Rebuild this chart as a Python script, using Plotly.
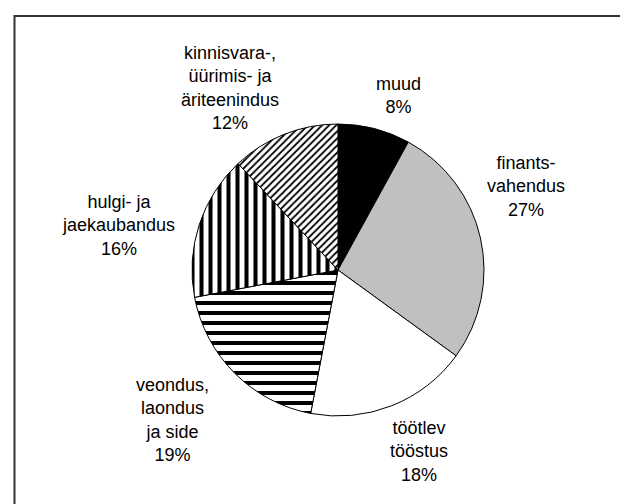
import plotly.graph_objects as go

# ---- data ----
categories = ["muud", "finants-<br>vahendus", "töötlev<br>tööstus", "veondus,<br>laondus<br>ja side",
              "hulgi- ja<br>jaekaubandus", "kinnisvara-,<br>üürimis- ja<br>äriteenindus"]
shares = [8, 27, 18, 19, 16, 12]

# ---- styles ----
fill_colors = ["#000000", "#c0c0c0", "#ffffff", "#ffffff", "#ffffff", "#ffffff"]
pattern_shapes = ["", "", "", "-", "|", "/"]
pattern_sizes = [8, 8, 8, 10, 9, 5]
pattern_solid = [0.3, 0.3, 0.3, 0.4, 0.45, 0.35]

# label block centres (pixels in the 628x504 canvas)
label_xy = [(390, 87), (518, 178), (411, 443), (164, 412), (111, 217), (222, 80)]

W, H = 628, 504
cx, cy, r = 330, 262, 146

fig = go.Figure(go.Pie(
    labels=categories,
    values=shares,
    sort=False,
    direction="clockwise",
    rotation=0,
    textinfo="none",
    hoverinfo="label+percent",
    marker=dict(colors=fill_colors,
                line=dict(color="#000000", width=1),
                pattern=dict(shape=pattern_shapes, fgcolor="#000000", bgcolor=fill_colors,
                             size=pattern_sizes, solidity=pattern_solid)),
    domain=dict(x=[(cx - r) / W, (cx + r) / W], y=[(H - cy - r) / H, (H - cy + r) / H]),
    showlegend=False,
))

total = sum(shares)
for lab, v, (lx, ly) in zip(categories, shares, label_xy):
    fig.add_annotation(x=lx / W, y=1 - ly / H, xref="paper", yref="paper",
                       text=f"{lab}<br>{round(100 * v / total)}%", showarrow=False,
                       xanchor="center", yanchor="middle", align="center",
                       font=dict(family="Liberation Sans, Arial", size=18, color="#000000"))

fig.add_shape(type="rect", xref="paper", yref="paper",
              x0=6.5 / W, x1=1.02, y0=-0.02, y1=1 - 8 / H,
              line=dict(color="#333333", width=2))

fig.update_layout(width=W, height=H, margin=dict(l=0, r=0, t=0, b=0),
                  paper_bgcolor="white", plot_bgcolor="white")
fig.write_html("out.html")
